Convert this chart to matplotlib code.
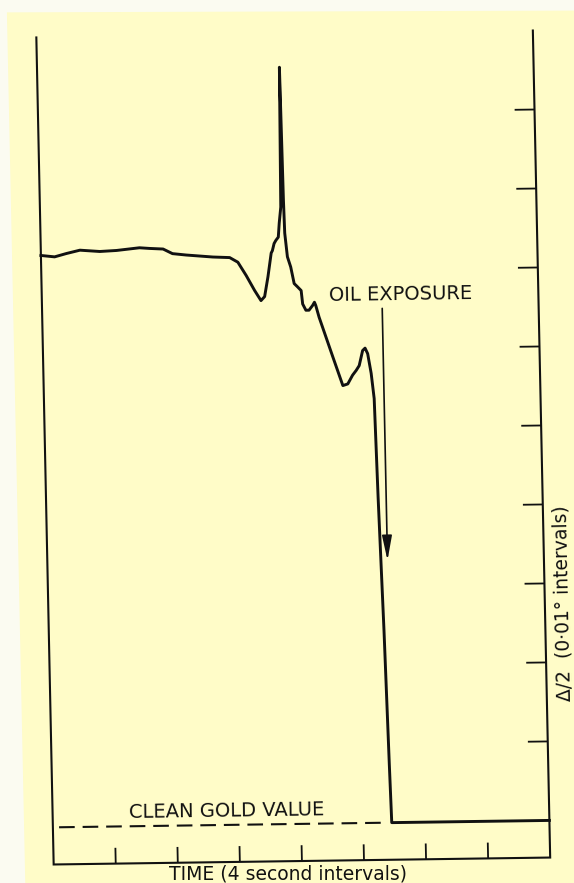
#!/usr/bin/env python3
"""
Ellipsometer trace: delta/2 against time during oil exposure of a gold surface.
"""

import matplotlib
matplotlib.use('Agg')  # Non-interactive backend for saving figures
import matplotlib.pyplot as plt
from matplotlib.patches import Polygon
from matplotlib.transforms import Affine2D

# Trace
# x in 4 second intervals, y in 0.01 deg intervals above the clean gold value
time = [0.0, 0.22, 0.41, 0.63, 0.95, 1.22, 1.59, 1.75, 1.97, 2.12, 2.34, 2.77,
        3.04, 3.17, 3.30, 3.43, 3.53, 3.59, 3.65, 3.71, 3.73, 3.76, 3.79, 3.83,
        3.85, 3.88, 3.905, 3.925, 3.935, 3.97, 4.02, 4.07, 4.12, 4.18, 4.20,
        4.25, 4.30, 4.36, 4.39, 4.41, 4.46, 4.67, 4.82, 4.90, 4.98, 5.04, 5.09,
        5.15, 5.19, 5.23, 5.28, 5.32, 5.35, 5.40, 5.44, 5.46, 8.0]
delta = [7.24, 7.22, 7.26, 7.30, 7.28, 7.29, 7.32, 7.31, 7.30, 7.24, 7.22, 7.19,
         7.18, 7.12, 6.95, 6.76, 6.63, 6.68, 6.93, 7.23, 7.26, 7.35, 7.39, 7.43,
         7.61, 7.81, 9.58, 7.90, 7.48, 7.18, 7.05, 6.84, 6.80, 6.75, 6.58,
         6.50, 6.50, 6.56, 6.60, 6.56, 6.41, 5.90, 5.54, 5.56, 5.67, 5.73, 5.79,
         5.98, 6.01, 5.94, 5.69, 5.37, 4.12, 2.43, 0.75, 0.0, 0.0]

# Clean gold reference level (dashed) and where it is drawn
clean_gold = 0.0
clean_span = [0.1, 5.35]

# Oil exposure arrow
oil_time = 5.48
arrow_from = 6.51
arrow_to = 3.32

x_ticks = [1, 2, 3, 4, 5, 6, 7]
y_ticks = [1, 2, 3, 4, 5, 6, 7, 8, 9]
x_lim = (0, 8)
y_lim = (-0.47, 10)

ink = '#111111'

fig = plt.figure(figsize=(5.74, 8.83), dpi=100)
fig.patch.set_facecolor('#fbfbf1')
# cream paper of the scan (slightly skewed edge on the left)
paper = Polygon([(0.012, 0.986), (1.0, 0.988), (1.0, 0.0), (0.044, 0.0)],
                closed=True, transform=fig.transFigure,
                facecolor='#fffcc8', edgecolor='none', zorder=-1)
fig.patches.append(paper)

ax = fig.add_axes([0.0784, 0.0249, 0.865, 0.9366])
ax.set_facecolor('none')
ax.set_xlim(*x_lim)
ax.set_ylim(*y_lim)
ax.axis('off')

# the printed chart sits slightly askew on the scan
cx, cy = ax.transAxes.transform((0.5, 0.5))
tilt = Affine2D().translate(-cx, -cy).skew_deg(-1.2, 0.8).translate(cx, cy)
tr = ax.transData + tilt

# Frame: left, bottom and right sides
ax.plot([x_lim[0], x_lim[0], x_lim[1], x_lim[1]],
        [y_lim[1], y_lim[0], y_lim[0], y_lim[1]],
        color=ink, linewidth=1.5, transform=tr, clip_on=False,
        solid_joinstyle='miter')
# inward ticks on bottom and right
ax.vlines(x_ticks, y_lim[0], y_lim[0] + 0.2, color=ink, linewidth=1.3,
          transform=tr, clip_on=False)
ax.hlines(y_ticks, x_lim[1] - 0.32, x_lim[1], color=ink, linewidth=1.3,
          transform=tr, clip_on=False)

# Trace
ax.plot(time, delta, color=ink, linewidth=2.1, solid_joinstyle='round',
        transform=tr, clip_on=False)

# Clean gold value
ax.plot(clean_span, [clean_gold, clean_gold], color=ink, linewidth=1.5,
        dashes=(7.5, 3.8), transform=tr, clip_on=False)
ax.text(2.8, clean_gold + 0.06, 'CLEAN GOLD VALUE', ha='center', va='bottom',
        fontsize=14, color=ink, rotation=0.8, rotation_mode='anchor',
        transform=tr)

# Oil exposure arrow
ax.annotate('', xy=(oil_time, arrow_to), xytext=(oil_time, arrow_from),
            xycoords=tr, textcoords=tr,
            arrowprops=dict(arrowstyle='-|>,head_length=0.75,head_width=0.15',
                            mutation_scale=20, lw=1.2, color=ink,
                            shrinkA=0, shrinkB=0))
ax.text(4.63, 6.68, 'OIL EXPOSURE', ha='left', va='center', fontsize=14,
        color=ink, rotation=0.8, rotation_mode='anchor', transform=tr)

# Axis titles
fig.text(288 / 574, 1 - 874 / 883, 'TIME (4 second intervals)', ha='center',
         va='center', fontsize=13.5, color=ink)
fig.text(563 / 574, 1 - 603 / 883, '\u0394/2  (0\u00b701\u00b0 intervals)',
         ha='center', va='center', rotation=91.2, fontsize=13.5, color=ink)

plt.savefig('out.png', dpi=100, facecolor=fig.get_facecolor())
print("Saved out.png")
